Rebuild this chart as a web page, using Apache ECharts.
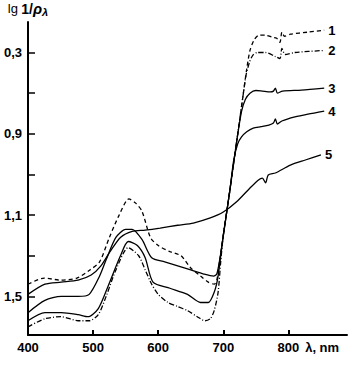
<!DOCTYPE html>
<html><head><meta charset="utf-8">
<script src="https://cdn.jsdelivr.net/npm/echarts@6/dist/echarts.min.js"></script>
<style>html,body{margin:0;padding:0;background:#fff}#c{width:356px;height:365px}</style>
</head><body><div id="c"></div>
<script>
// wavelength (nm), lg 1/rho
const curve1 = [[400,1.44],[425,1.41],[450,1.42],[475,1.41],[495,1.37],[510,1.33],[525,1.21],[540,1.10],[555,1.02],[565,1.04],[575,1.08],[588,1.21],[600,1.25],[618,1.28],[635,1.30],[650,1.36],[665,1.40],[677,1.43],[686,1.44],[690,1.42],[695,1.31],[700,1.20],[710,0.98],[720,0.75],[730,0.52],[736,0.38],[741,0.29],[747,0.24],[755,0.215],[765,0.215],[775,0.225],[782,0.23],[787,0.25],[790,0.20],[794,0.22],[803,0.21],[830,0.20],[855,0.19]];
const curve2 = [[400,1.65],[426,1.61],[451,1.60],[477,1.62],[494,1.62],[508,1.59],[520,1.50],[535,1.37],[554,1.26],[570,1.30],[580,1.37],[590,1.44],[600,1.49],[615,1.53],[630,1.55],[645,1.57],[660,1.60],[672,1.62],[680,1.61],[686,1.57],[692,1.48],[696,1.33],[700,1.20],[710,0.98],[720,0.75],[730,0.52],[735,0.41],[740,0.35],[745,0.315],[752,0.30],[765,0.30],[780,0.32],[787,0.33],[790,0.28],[795,0.31],[810,0.30],[855,0.29]];
const curve3 = [[400,1.58],[426,1.52],[451,1.50],[477,1.50],[494,1.49],[510,1.40],[520,1.32],[535,1.21],[550,1.17],[560,1.17],[575,1.22],[590,1.31],[610,1.33],[630,1.35],[650,1.37],[670,1.39],[685,1.40],[690,1.39],[695,1.31],[700,1.20],[710,0.98],[720,0.75],[728,0.59],[734,0.53],[741,0.50],[750,0.487],[760,0.49],[772,0.494],[777,0.49],[780,0.475],[783,0.50],[791,0.49],[820,0.485],[855,0.475]];
const curve4 = [[400,1.62],[426,1.58],[451,1.58],[477,1.59],[492,1.60],[508,1.56],[523,1.45],[542,1.30],[554,1.23],[568,1.25],[580,1.31],[592,1.43],[618,1.46],[645,1.49],[665,1.53],[677,1.53],[686,1.48],[692,1.40],[700,1.20],[710,0.98],[716,0.83],[722,0.75],[728,0.715],[736,0.69],[746,0.672],[758,0.665],[770,0.657],[777,0.647],[780,0.627],[783,0.652],[790,0.637],[810,0.617],[830,0.603],[855,0.588]];
const curve5 = [[400,1.49],[426,1.44],[451,1.43],[477,1.42],[497,1.395],[512,1.35],[526,1.28],[542,1.21],[560,1.18],[580,1.174],[603,1.164],[630,1.15],[654,1.139],[680,1.114],[700,1.085],[720,1.036],[741,0.967],[754,0.927],[760,0.918],[765,0.942],[769,0.903],[780,0.893],[803,0.854],[826,0.829],[850,0.804]];
const seriesNames = ['1','2','3','4','5'];
const xTickValues = [400,500,600,700,800];
const yTickValues = [0.3,0.7,1.1,1.5];
const yTickLabels = ['0,3','0,9','1,1','1,5'];
const yTickMarks = [0.3,0.5,0.7,0.9,1.1,1.3,1.5];

const chart = echarts.init(document.getElementById('c'), null, {renderer:'svg'});
const FONT = 'Liberation Sans, Arial, sans-serif';
const datasets = [curve1,curve2,curve3,curve4,curve5];
const dashes = [[4,3],[5,2,1,2],'solid','solid','solid'];
chart.setOption({
  animation:false,
  backgroundColor:'#fff',
  grid:{left:28,top:22,right:9,bottom:30},
  xAxis:{type:'value',min:400,max:890,
    axisLine:{lineStyle:{color:'#000',width:2}},
    axisTick:{inside:true,length:5,customValues:xTickValues,lineStyle:{color:'#000',width:2}},
    axisLabel:{customValues:xTickValues,color:'#000',fontWeight:'bold',fontSize:13,fontFamily:FONT,margin:6},
    splitLine:{show:false},
    name:'λ, nm',nameLocation:'end',nameGap:-47,
    nameTextStyle:{color:'#000',fontWeight:'bold',fontSize:13,fontFamily:FONT,align:'left',verticalAlign:'top',padding:[6,0,0,0]}
  },
  yAxis:{type:'value',inverse:true,min:0.15,max:1.69,
    axisLine:{lineStyle:{color:'#000',width:2}},
    axisTick:{inside:true,length:7,customValues:yTickMarks,lineStyle:{color:'#000',width:1.5}},
    axisLabel:{customValues:yTickValues,color:'#000',fontWeight:'bold',fontSize:13,fontFamily:FONT,margin:6,
      formatter:function(v){for(let i=0;i<yTickValues.length;i++){if(Math.abs(v-yTickValues[i])<1e-6)return yTickLabels[i];}return '';}},
    splitLine:{show:false},
    name:'{a|lg} {b|1/}{c|ρ}{d|λ}',nameLocation:'start',nameGap:5,
    nameTextStyle:{color:'#000',fontFamily:FONT,rich:{
      a:{fontSize:13,fontFamily:FONT,color:'#000'},
      b:{fontSize:14,fontWeight:'bold',fontFamily:FONT,color:'#000'},
      c:{fontSize:15,fontStyle:'italic',fontWeight:'bold',fontFamily:FONT,color:'#000'},
      d:{fontSize:11,fontStyle:'italic',fontWeight:'bold',fontFamily:FONT,color:'#000',verticalAlign:'bottom',padding:[6,0,0,0]}
    }}
  },
  series: datasets.map((d,i)=>({
    type:'line',name:seriesNames[i],data:d,showSymbol:false,smooth:0.25,
    lineStyle:{color:'#000',width:1.3,type:dashes[i]},
    endLabel:{show:true,formatter:seriesNames[i],color:'#000',fontWeight:'bold',fontSize:13,fontFamily:FONT,distance:4}
  }))
});
</script></body></html>
